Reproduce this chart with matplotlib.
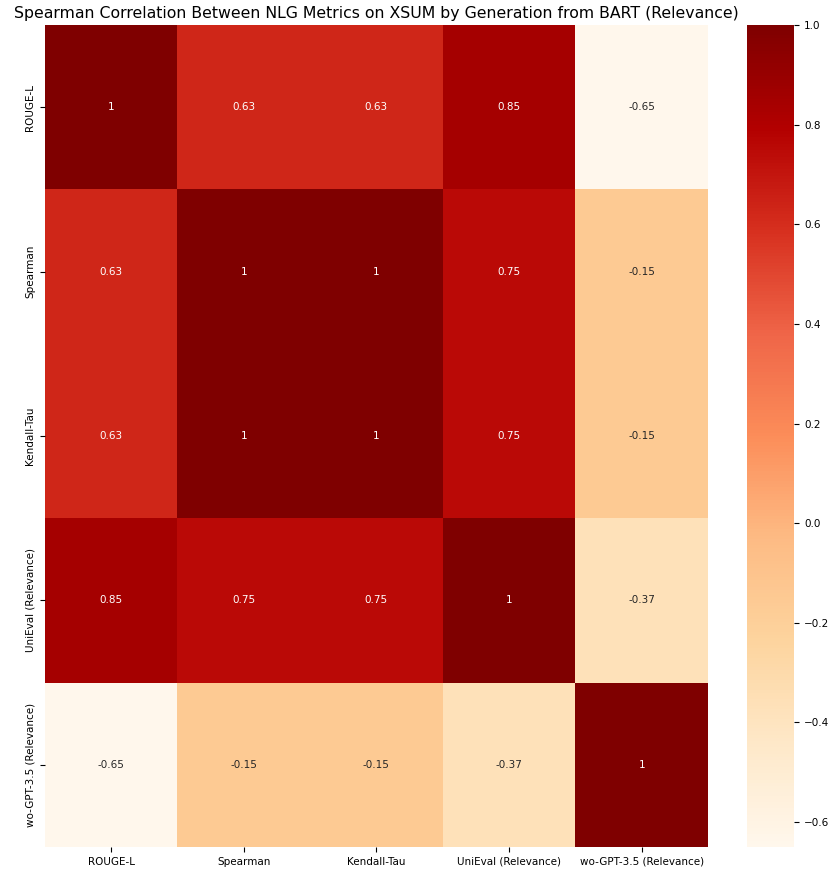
import numpy as np
import matplotlib
matplotlib.use("Agg")
import matplotlib.pyplot as plt
import seaborn as sns

# Datos
metrics = ["ROUGE-L", "Spearman", "Kendall-Tau", "UniEval (Relevance)", "wo-GPT-3.5 (Relevance)"]
row_rouge = [1, 0.63, 0.63, 0.85, -0.65]
row_spearman = [0.63, 1, 1, 0.75, -0.15]
row_kendall = [0.63, 1, 1, 0.75, -0.15]
row_unieval = [0.85, 0.75, 0.75, 1, -0.37]
row_gpt = [-0.65, -0.15, -0.15, -0.37, 1]

corr = np.array([row_rouge, row_spearman, row_kendall, row_unieval, row_gpt])

fig = plt.figure(figsize=(8.3, 8.73), dpi=100)
ax = fig.add_axes([0.054, 0.0298, 0.799, 0.9416])
cax = fig.add_axes([0.9, 0.0298, 0.057, 0.9416])

sns.heatmap(corr, annot=True, cmap="OrRd", xticklabels=metrics, yticklabels=metrics,
            ax=ax, cbar_ax=cax, annot_kws={"fontsize": 7.5})

ax.tick_params(axis="both", labelsize=7.5)
ax.tick_params(axis="x", labelrotation=0)
ax.tick_params(axis="y", labelrotation=90)
for lbl in ax.get_yticklabels():
    lbl.set_verticalalignment("center")
cax.tick_params(labelsize=7.5)
ax.set_title("Spearman Correlation Between NLG Metrics on XSUM by Generation from BART (Relevance)",
             fontsize=11.3, pad=5)

fig.savefig("out.png", dpi=100)
